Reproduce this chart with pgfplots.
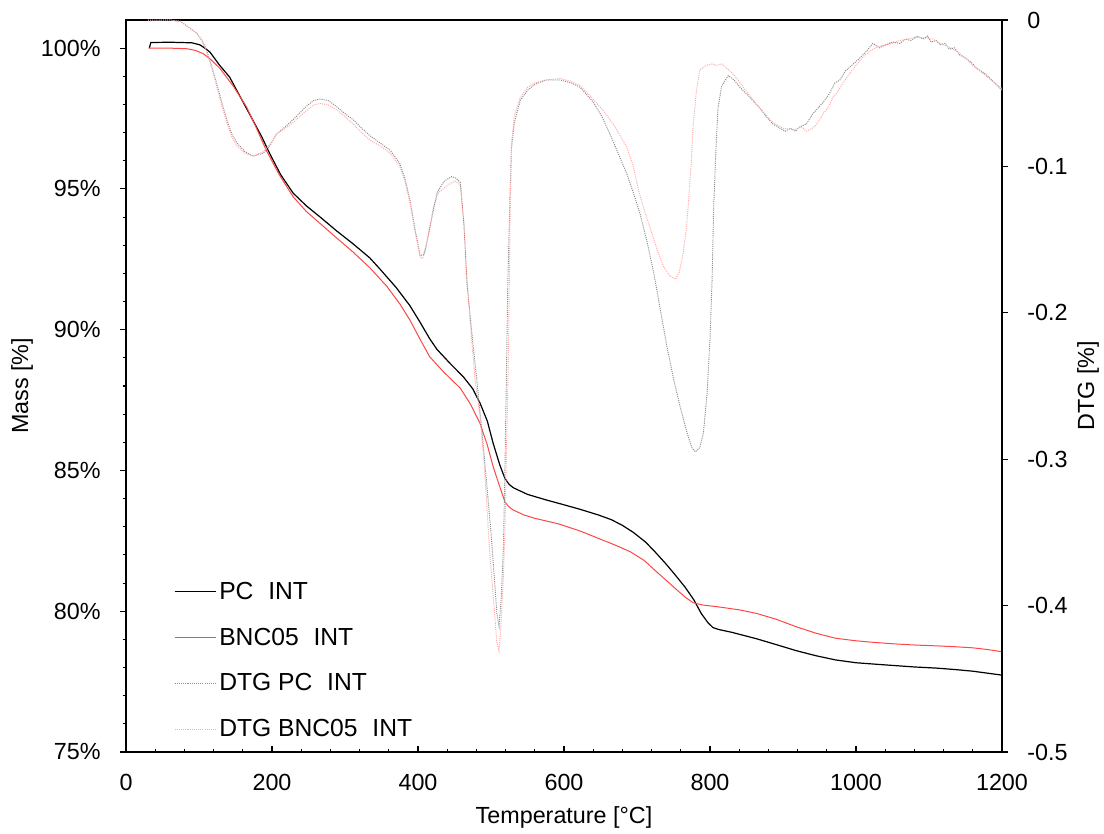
\documentclass[border=0pt]{standalone}
\usepackage{pgfplots}
\pgfplotsset{compat=1.18}
\usepackage{fontspec}
\setmainfont{Liberation Sans}
\definecolor{massred}{RGB}{255,70,70}
\definecolor{dtggray}{RGB}{140,140,140}
\definecolor{dtgpink}{RGB}{255,170,170}
\newcommand{\gap}{\hspace{0.6em}}
\pgfplotsset{
  every axis/.append style={
    font=\fontsize{17.5}{21}\selectfont,
    axis line style={line width=1.1pt},
    every tick/.style={black,line width=0.8pt},
    major tick length=4.5pt, minor tick length=2.6pt,
    scale only axis, width=657pt, height=549pt,
    xmin=0, xmax=1200,
  }
}
\begin{document}
\begin{tikzpicture}
\begin{axis}[
  name=ax1,
  ymin=75, ymax=101,
  xtick={0,200,...,1200},
  xticklabels={0,200,400,600,800,1000,1200},
  minor x tick num=4,
  xtick pos=bottom, xtick align=inside,
  ytick={75,80,...,100},
  yticklabels={75\%,80\%,85\%,90\%,95\%,100\%},
  minor y tick num=4,
  ytick pos=left, ytick align=outside,
  xticklabel style={yshift=-13pt},
  yticklabel style={xshift=-11pt},
  xlabel={Temperature [°C]},
  ylabel={Mass [\%]},
  x label style={at={(axis description cs:0.5,-0.090)},anchor=center},
  y label style={at={(axis description cs:-0.1187,0.5)},anchor=center,rotate=0},
]
\addplot[black, line width=0.9pt] table {
32 100.0
34 100.2
60 100.21
90 100.19
101 100.12
108 100.0
115 99.86
128 99.4
142 98.97
158 98.2
174 97.43
186 96.85
197 96.25
212 95.5
229 94.85
247 94.4
266 94.0
288 93.52
311 93.05
334 92.55
348 92.15
370 91.5
389 90.85
402 90.3
416 89.68
426 89.3
444 88.8
462 88.33
475 87.9
485 87.39
495 86.75
503 85.96
512 85.2
519 84.72
525 84.5
531 84.38
550 84.15
576 83.95
600 83.78
622 83.62
647 83.42
665 83.25
680 83.05
695 82.8
712 82.45
725 82.1
739 81.7
752 81.3
766 80.85
778 80.4
788 79.92
797 79.6
804 79.42
812 79.35
830 79.25
864 79.02
890 78.82
918 78.6
945 78.42
972 78.27
1000 78.17
1026 78.12
1053 78.07
1080 78.02
1110 77.98
1135 77.93
1160 77.87
1180 77.8
1200 77.73
};
\addplot[massred, line width=0.75pt] table {
31 100.0
60 100.0
83 99.98
95 99.92
106 99.8
117 99.58
129 99.27
147 98.65
165 97.92
178 97.2
192 96.38
210 95.5
229 94.72
247 94.2
266 93.77
288 93.27
311 92.76
334 92.2
357 91.55
375 90.92
389 90.34
402 89.7
416 89.04
435 88.5
458 87.92
472 87.35
485 86.67
495 85.9
503 85.13
511 84.5
519 83.89
524 83.72
530 83.6
545 83.42
560 83.3
593 83.1
622 82.85
647 82.59
670 82.35
691 82.11
710 81.8
729 81.35
742 81.05
755 80.75
766 80.5
777 80.3
790 80.22
810 80.16
840 80.05
864 79.92
890 79.72
918 79.45
945 79.22
972 79.04
1000 78.95
1026 78.89
1053 78.84
1080 78.8
1110 78.77
1135 78.74
1160 78.7
1180 78.64
1200 78.56
};
\end{axis}
\begin{axis}[
  name=ax2,
  ymin=-0.5, ymax=0,
  axis x line=none,
  axis y line*=right,
  ytick={-0.5,-0.4,...,0},
  yticklabels={-0.5,-0.4,-0.3,-0.2,-0.1,0},
  ytick align=outside,
  yticklabel style={xshift=11pt},
  ylabel={DTG [\%]},
  y label style={at={(axis description cs:1.0982,0.5)},anchor=center},
  legend style={at={(0.05,0.240)},anchor=north west,draw=none,fill=none,
    row sep=16pt, font=\fontsize{18.5}{22}\selectfont},
  legend cell align=left,
  legend image code/.code={\draw[#1] (0pt,0pt) -- (31pt,0pt);},
]
\addlegendimage{black, line width=0.9pt}
\addlegendentry{PC\gap INT}
\addlegendimage{massred, line width=0.75pt}
\addlegendentry{BNC05\gap INT}
\addplot[dtggray, line width=0.7pt, dash pattern=on 0.8pt off 0.8pt] table {
30 -0.0005
60 0.0
75 -0.001
83 -0.004
97 -0.009
104 -0.014
110 -0.020
117 -0.031
124 -0.043
131 -0.056
138 -0.068
145 -0.078
152 -0.084
163 -0.090
174 -0.093
188 -0.091
197 -0.086
206 -0.078
218 -0.073
229 -0.068
247 -0.059
257 -0.055
266 -0.054
277 -0.055
288 -0.059
300 -0.064
311 -0.068
323 -0.074
334 -0.079
348 -0.084
362 -0.089
375 -0.098
382 -0.108
389 -0.123
396 -0.143
403 -0.161
408 -0.160
412 -0.152
419 -0.135
426 -0.118
436 -0.110
446 -0.107
452 -0.108
458 -0.111
463 -0.140
467 -0.180
474 -0.215
481 -0.248
488 -0.283
494 -0.316
500 -0.350
505 -0.384
508 -0.405
511 -0.414
514 -0.395
517 -0.361
519 -0.310
521 -0.248
523 -0.180
526 -0.120
528 -0.088
532 -0.070
540 -0.055
550 -0.048
560 -0.044
575 -0.041
595 -0.041
610 -0.043
622 -0.046
631 -0.051
640 -0.056
652 -0.066
663 -0.078
675 -0.092
686 -0.105
695 -0.118
704 -0.132
714 -0.152
723 -0.173
732 -0.198
741 -0.223
750 -0.245
759 -0.264
768 -0.281
775 -0.292
780 -0.295
786 -0.292
791 -0.282
796 -0.255
800 -0.218
803 -0.175
805 -0.128
808 -0.090
811 -0.060
816 -0.045
825 -0.038
833 -0.041
841 -0.046
855 -0.053
868 -0.060
877 -0.066
886 -0.071
896 -0.074
903 -0.076
910 -0.074
917 -0.076
923 -0.073
932 -0.071
941 -0.064
950 -0.059
957 -0.055
964 -0.050
971 -0.043
978 -0.041
985 -0.035
992 -0.032
1005 -0.026
1015 -0.021
1023 -0.016
1032 -0.019
1041 -0.017
1050 -0.015
1060 -0.016
1068 -0.013
1075 -0.014
1084 -0.011
1092 -0.013
1098 -0.011
1103 -0.015
1110 -0.014
1115 -0.017
1122 -0.016
1128 -0.020
1135 -0.019
1142 -0.024
1150 -0.026
1158 -0.029
1165 -0.033
1172 -0.035
1180 -0.038
1188 -0.042
1200 -0.048
};
\addlegendentry{DTG PC\gap INT}
\addplot[dtgpink, line width=0.7pt, dash pattern=on 0.8pt off 0.8pt] table {
30 0.0
60 0.0
75 -0.001
83 -0.004
97 -0.009
104 -0.014
110 -0.021
117 -0.032
124 -0.045
131 -0.058
138 -0.070
145 -0.080
152 -0.086
163 -0.091
174 -0.093
188 -0.090
197 -0.085
206 -0.078
218 -0.074
229 -0.070
247 -0.062
257 -0.058
266 -0.057
277 -0.058
288 -0.061
300 -0.066
311 -0.071
323 -0.077
334 -0.082
348 -0.086
362 -0.091
375 -0.100
382 -0.110
389 -0.125
396 -0.145
403 -0.162
406 -0.163
410 -0.158
415 -0.145
421 -0.128
428 -0.118
440 -0.113
451 -0.110
458 -0.113
463 -0.140
467 -0.175
471 -0.203
478 -0.245
485 -0.271
491 -0.305
498 -0.362
504 -0.400
508 -0.425
511 -0.431
514 -0.410
517 -0.380
519 -0.350
521 -0.300
524 -0.226
526 -0.140
528 -0.085
532 -0.065
540 -0.053
550 -0.046
560 -0.043
575 -0.041
595 -0.040
610 -0.042
622 -0.045
636 -0.052
654 -0.062
670 -0.073
686 -0.087
695 -0.100
702 -0.116
710 -0.130
718 -0.142
727 -0.156
736 -0.168
745 -0.175
753 -0.177
758 -0.172
763 -0.160
767 -0.145
770 -0.128
774 -0.100
777 -0.072
781 -0.050
786 -0.034
795 -0.031
803 -0.030
809 -0.031
816 -0.030
823 -0.033
830 -0.036
837 -0.040
850 -0.049
868 -0.060
886 -0.070
900 -0.074
915 -0.075
925 -0.073
932 -0.076
940 -0.074
945 -0.072
955 -0.064
962 -0.060
968 -0.053
975 -0.049
982 -0.043
995 -0.034
1010 -0.025
1020 -0.021
1030 -0.018
1040 -0.017
1050 -0.016
1060 -0.014
1070 -0.013
1080 -0.012
1090 -0.012
1105 -0.013
1112 -0.015
1120 -0.017
1130 -0.019
1140 -0.022
1150 -0.026
1160 -0.031
1170 -0.035
1180 -0.039
1190 -0.043
1200 -0.047
};
\addlegendentry{DTG BNC05\gap INT}
\end{axis}
\path[use as bounding box] ([xshift=-94.5pt,yshift=-59.25pt]ax1.south west) rectangle ([xshift=76.5pt,yshift=15pt]ax1.north east);
\end{tikzpicture}
\end{document}
